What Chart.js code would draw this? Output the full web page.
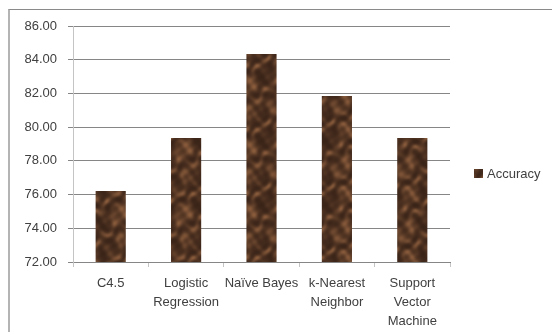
<!DOCTYPE html>
<html>
<head>
<meta charset="utf-8">
<script src="https://cdn.jsdelivr.net/npm/chart.js@4"></script>
<style>
  html, body { margin: 0; padding: 0; background: #fff; }
  #wrap { position: relative; width: 552px; height: 332px; overflow: hidden; }
  #frame {
    position: absolute; left: 8px; top: 9px; width: 600px; height: 400px;
    border-top: 1px solid #8a8a8a; border-left: 2px solid #b4b4b4;
  }
  canvas { position: absolute; left: 0; top: 0; }
</style>
</head>
<body>
<div id="wrap">
  <div id="frame"></div>
  <canvas id="chart" width="552" height="332"></canvas>
</div>
<script>
const categories = [
  ["C4.5"],
  ["Logistic", "Regression"],
  ["Naïve Bayes"],
  ["k-Nearest", "Neighbor"],
  ["Support", "Vector", "Machine"]
];
const accuracy = [76.21, 79.35, 84.34, 81.85, 79.35];
const seriesName = "Accuracy";
const yMin = 72, yMax = 86, yStep = 2;

// Brown marble texture for the bars (seamless tile)
function makeMarble() {
  const N = 64;
  const c = document.createElement("canvas");
  c.width = N; c.height = N;
  const g = c.getContext("2d");
  const img = g.createImageData(N, N);
  const TAU = Math.PI * 2;
  for (let y = 0; y < N; y++) {
    for (let x = 0; x < N; x++) {
      const u = x / N, w = y / N;
      const warp = Math.sin(TAU * (2 * w + u)) * 0.6 + Math.cos(TAU * (3 * u - w)) * 0.4;
      let v = Math.sin(TAU * (3 * u + 2 * w) + warp * 2.2) * 0.45 +
              Math.sin(TAU * (-2 * u + 4 * w) + warp * 1.6) * 0.35 +
              Math.sin(TAU * (5 * u + 7 * w)) * 0.12 +
              Math.cos(TAU * (7 * u - 5 * w)) * 0.08;
      v = Math.pow(Math.max(0, Math.min(1, (v + 1) / 2)), 1.8);
      const i = (y * N + x) * 4;
      img.data[i] = 58 + v * 80;
      img.data[i + 1] = 36 + v * 56;
      img.data[i + 2] = 24 + v * 36;
      img.data[i + 3] = 255;
    }
  }
  g.putImageData(img, 0, 0);
  return g.createPattern(c, "repeat");
}
const marble = makeMarble();

const legendRight = {
  id: "legendRight",
  afterDraw(chart) {
    const ctx = chart.ctx;
    ctx.save();
    ctx.fillStyle = marble;
    ctx.fillRect(474, 169, 9, 9);
    ctx.fillStyle = "#404040";
    ctx.font = "13px 'Liberation Sans', Arial, sans-serif";
    ctx.textBaseline = "middle";
    ctx.fillText(chart.data.datasets[0].label, 487, 174);
    ctx.restore();
  }
};

const font = { family: "'Liberation Sans', Arial, sans-serif", size: 13 };

new Chart(document.getElementById("chart"), {
  type: "bar",
  data: {
    labels: categories,
    datasets: [{
      label: seriesName,
      data: accuracy,
      backgroundColor: marble,
      borderWidth: 0,
      barPercentage: 0.4,
      categoryPercentage: 1
    }]
  },
  options: {
    responsive: false,
    animation: false,
    layout: { padding: { left: 0, top: 26, right: 102, bottom: 0 } },
    plugins: { legend: { display: false }, tooltip: { enabled: false } },
    scales: {
      x: {
        afterFit: (s) => { s.height = 70; },
        grid: { drawOnChartArea: false, drawTicks: true, tickLength: 5, color: "#c4c4c4" },
        border: { color: "#868686" },
        ticks: { color: "#404040", font: { ...font, lineHeight: 1.45 }, padding: 7, maxRotation: 0, autoSkip: false }
      },
      y: {
        min: yMin,
        max: yMax,
        afterFit: (s) => { s.width = 73; },
        grid: { color: "#868686", tickLength: 5 },
        border: { color: "#c4c4c4" },
        ticks: { stepSize: yStep, color: "#404040", font, padding: 11, callback: (v) => v.toFixed(2) }
      }
    }
  },
  plugins: [legendRight]
});
</script>
</body>
</html>
